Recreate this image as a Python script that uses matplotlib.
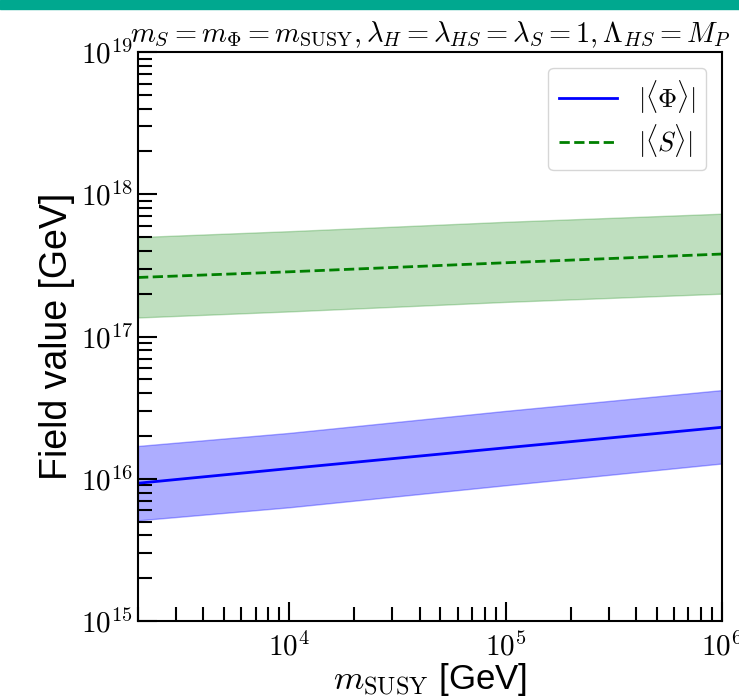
import numpy as np
import matplotlib
matplotlib.use("Agg")
import matplotlib.pyplot as plt
from matplotlib.ticker import LogLocator, NullFormatter, FuncFormatter

# values
m_susy = [2e3, 1e4, 1e5, 1e6]
phi_mid = [9.3e15, 1.18e16, 1.65e16, 2.3e16]
phi_lo = [5.1e15, 6.3e15, 9.0e15, 1.28e16]
phi_hi = [1.7e16, 2.1e16, 3.0e16, 4.2e16]
s_mid = [2.6e17, 2.85e17, 3.3e17, 3.8e17]
s_lo = [1.36e17, 1.5e17, 1.75e17, 2.0e17]
s_hi = [5.0e17, 5.5e17, 6.4e17, 7.3e17]

plt.rcParams['font.family'] = ['Liberation Sans', 'DejaVu Sans']
plt.rcParams['mathtext.fontset'] = 'cm'

fig = plt.figure(figsize=(7.39, 6.97), dpi=100)
ax = fig.add_axes([138/739, 1 - 621/697, (722-138)/739, (621-52)/697])

# teal bar on top of the slide
fig.patches.append(plt.Rectangle((0, 1 - 9/697), 1, 9/697, transform=fig.transFigure,
                                 color="#00a88f", zorder=0))

ax.fill_between(m_susy, s_lo, s_hi, color="green", alpha=0.25)
ax.fill_between(m_susy, phi_lo, phi_hi, color="blue", alpha=0.32)
ax.plot(m_susy, phi_mid, color="blue", lw=2, label=r"$|\langle\Phi\rangle|$")
ax.plot(m_susy, s_mid, color="green", lw=2, ls="--", label=r"$|\langle S\rangle|$")

ax.set_xscale("log")
ax.set_yscale("log")
ax.set_xlim(2e3, 1e6)
ax.set_ylim(1e15, 1e19)

# tick labels in computer modern, like the reference
pow_fmt = FuncFormatter(lambda v, p: r"$10^{%d}$" % round(np.log10(v)))
ax.xaxis.set_major_formatter(pow_fmt)
ax.yaxis.set_major_formatter(pow_fmt)
ax.yaxis.set_minor_locator(LogLocator(base=10, subs=np.arange(2, 10), numticks=20))
ax.yaxis.set_minor_formatter(NullFormatter())
ax.xaxis.set_minor_formatter(NullFormatter())

ax.tick_params(which="both", direction="in", top=False, right=False, labelsize=21, width=1.5)
ax.tick_params(which="major", length=14)
ax.tick_params(which="minor", length=10)
ax.tick_params(axis="x", pad=8)
for sp in ax.spines.values():
    sp.set_linewidth(1.5)

ax.set_xlabel(r"$m_{\rm SUSY}$ [GeV]", fontsize=25, labelpad=0)
ax.set_ylabel("Field value [GeV]", fontsize=27, labelpad=4)
ax.set_title(r"$m_S = m_\Phi = m_{\rm SUSY}, \lambda_H = \lambda_{HS} = \lambda_S = 1, \Lambda_{HS} = M_P$",
             fontsize=20.5, pad=7, x=0.5)

leg = ax.legend(loc="upper right", fontsize=19, handlelength=2.2, borderpad=0.4,
                labelspacing=0.25, borderaxespad=0.6)
leg.get_frame().set_edgecolor("#cccccc")

plt.savefig("out.png", dpi=100)
